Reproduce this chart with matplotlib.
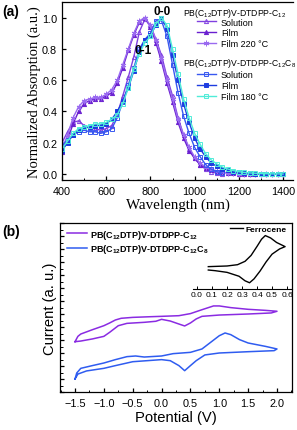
import numpy as np
import matplotlib
matplotlib.use("Agg")
import matplotlib.pyplot as plt
from matplotlib.ticker import MultipleLocator

plt.rcParams["font.family"] = ["Liberation Sans", "DejaVu Sans"]
plt.rcParams["mathtext.default"] = "regular"

# -----------------------------
# (a) absorption spectra
# -----------------------------
wl = [400, 425, 450, 475, 500, 525, 550, 575, 600, 625, 650, 675, 700, 725,
      750, 775, 800, 825, 850, 875, 900, 925, 950, 975, 1000, 1025, 1050,
      1075, 1100, 1125, 1150, 1175, 1200, 1225, 1250, 1275, 1300, 1325,
      1350, 1375, 1400]
nan = np.nan
c12_sol = [.20, .27, .33, .34, .31, .29, .29, .28, .29, .31, .38, .50, .62, .75,
           .91, .99, .95, .86, .76, .62, .50, .36, .25, .16, .10, .06, .03,
           .015, .005, 0, nan, nan, nan, nan, nan, nan, nan, nan, nan, nan, nan]
c12_film = [.14, .22, .32, .40, .45, .47, .48, .48, .50, .52, .58, .68, .79, .89,
            .97, 1.0, .94, .84, .72, .58, .46, .33, .23, .15, .10, .06, .04,
            .025, .015, .01, .007, .005, .003, .002, .001, .001, 0, 0, 0, 0, 0]
c12_film220 = [.16, .25, .36, .43, .47, .48, .49, .49, .51, .54, .60, .70, .80, .90,
               .98, 1.0, .95, .86, .74, .60, .48, .35, .25, .17, .11, .07, .045,
               .03, .02, .012, .008, .005, .003, .002, .001, .001, 0, 0, 0, 0, 0]
c8_sol = [.18, .22, .25, .27, .28, .27, .27, .26, .27, .29, .36, .46, .57, .68,
          .80, .86, .90, .98, .98, .88, .70, .52, .37, .26, .17, .11, .06,
          .03, .015, .005, nan, nan, nan, nan, nan, nan, nan, nan, nan, nan, nan]
c8_film = [.15, .20, .25, .28, .30, .30, .31, .31, .32, .35, .40, .47, .55, .66,
           .78, .86, .89, .95, 1.0, .93, .76, .60, .45, .33, .23, .16, .11,
           .07, .05, .035, .025, .015, .01, .007, .005, .003, .002, .001, .001, 0, 0]
c8_film180 = [.16, .21, .26, .29, .30, .31, .32, .32, .33, .35, .38, .45, .55, .67,
              .77, .84, .88, .96, 1.0, .95, .80, .64, .48, .36, .26, .19, .13,
              .09, .065, .045, .032, .022, .015, .01, .007, .005, .003, .002,
              .001, .001, 0]

# -----------------------------
# (b) cyclic voltammetry
# -----------------------------
cv1_v = [-1.5, -1.45, -1.4, -1.2, -1.0, -0.9, -0.8, -0.7, -0.5, -0.2, 0.0, 0.3,
         0.5, 0.7, 0.9, 1.0, 1.2, 1.5, 1.8, 2.0,
         1.9, 1.5, 1.0, 0.7, 0.6, 0.5, 0.4, 0.3, 0.15, 0.0, -0.1, -0.3, -0.6,
         -0.75, -0.9, -1.0, -1.2, -1.4, -1.5]
cv1_i = [3.87, 4.28, 4.46, 4.79, 5.10, 5.31, 5.54, 5.67, 5.74, 5.79, 5.82, 5.87,
         6.03, 6.33, 6.62, 6.62, 6.49, 6.36, 6.28, 6.21,
         6.08, 6.00, 5.92, 5.82, 5.62, 5.31, 5.08, 5.23, 5.46, 5.59, 5.44, 5.36,
         5.28, 5.10, 4.59, 4.28, 4.08, 3.92, 3.87]
cv2_v = [-1.5, -1.47, -1.4, -1.2, -1.0, -0.8, -0.6, -0.45, -0.3, 0.0, 0.2, 0.5,
         0.7, 0.85, 1.0, 1.1, 1.2, 1.35, 1.5, 1.8, 2.0,
         1.95, 1.5, 1.0, 0.75, 0.6, 0.5, 0.4, 0.3, 0.15, 0.0, -0.5, -0.8, -1.0,
         -1.3, -1.45, -1.5]
cv2_i = [1.00, 1.46, 1.82, 2.03, 2.23, 2.49, 2.72, 2.77, 2.69, 2.77, 2.95, 3.05,
         3.31, 3.82, 4.33, 4.54, 4.41, 4.03, 3.77, 3.51, 3.31,
         3.18, 3.10, 3.00, 2.85, 2.41, 2.03, 1.64, 2.03, 2.41, 2.49, 2.33, 2.03,
         1.82, 1.62, 1.38, 1.00]
fc_v = [0.075, 0.2, 0.27, 0.32, 0.36, 0.40, 0.43, 0.455, 0.49, 0.53, 0.587,
        0.55, 0.5, 0.46, 0.42, 0.38, 0.35, 0.32, 0.28, 0.2, 0.12, 0.075]
fc_i = [9.64, 9.69, 9.79, 10.05, 10.5, 11.2, 11.75, 12.03, 11.85, 11.5, 11.18,
        11.0, 10.6, 10.0, 9.3, 8.7, 8.4, 8.55, 8.9, 9.2, 9.33, 9.38]

name1 = "PB(C$_{12}$DTP)V-DTDPP-C$_{12}$"
name2 = "PB(C$_{12}$DTP)V-DTDPP-C$_{12}$C$_{8}$"

W, H = 297, 431
fig = plt.figure(figsize=(W / 100, H / 100), dpi=100)


def frac(left, top, right, bottom):
    return [left / W, 1 - bottom / H, (right - left) / W, (bottom - top) / H]


# ---- panel (a)
ax = fig.add_axes(frac(62, 3, 293, 180.5))
ms = 3
ax.plot(wl, c12_sol, color="#8040e0", lw=1.0, marker="^", ms=ms, mfc="none", mew=0.7)
ax.plot(wl, c12_film, color="#6a1fd0", lw=1.0, marker="^", ms=ms, mew=0.7)
ax.plot(wl, c12_film220, color="#9a6af0", lw=1.0, marker=(6, 2, 0), ms=ms + 1, mew=0.7)
ax.plot(wl, c8_sol, color="#3858f0", lw=1.0, marker="s", ms=ms - 0.5, mfc="none", mew=0.7)
ax.plot(wl, c8_film, color="#1e3ce0", lw=1.0, marker="s", ms=ms - 0.5, mew=0.7)
ax.plot(wl, c8_film180, color="#50ecd8", lw=1.0, marker="s", ms=ms - 0.5, mfc="none", mew=0.7)

ax.set_xlim(400, 1445)
ax.set_ylim(-0.035, 1.1)
ax.set_xticks([400, 600, 800, 1000, 1200, 1400])
ax.xaxis.set_minor_locator(MultipleLocator(100))
ax.set_yticks([0.0, 0.2, 0.4, 0.6, 0.8, 1.0])
ax.tick_params(which="major", direction="in", length=3, width=0.9, labelsize=7.8)
ax.tick_params(which="minor", direction="in", length=1.8, width=0.7)
ax.tick_params(axis="x", pad=4.5)
ax.tick_params(axis="y", pad=3.5)
for s in ["left", "bottom", "top"]:
    ax.spines[s].set_linewidth(0.9)
ax.spines["right"].set_visible(False)
ax.set_xlabel("Wavelength (nm)", family="Liberation Serif", fontsize=10.8, labelpad=1)
ax.set_ylabel("Normalized Absorption (a.u.)", family="Liberation Serif", fontsize=10.5,
              labelpad=1)

ax.text(852, 1.04, "0-0", fontsize=8.5, fontweight="bold", ha="center", va="center")
ax.text(766, 0.79, "0-1", fontsize=8.5, fontweight="bold", ha="center", va="center")

hl = ax.get_lines()
ax.text(0.524, 0.9435, name1, transform=ax.transAxes, fontsize=6.2, va="center")
ax.text(0.524, 0.661, name2, transform=ax.transAxes, fontsize=6.2, va="center")
labs = ["Solution", "Film", "Film 220 °C"]
leg1 = ax.legend(hl[:3], labs, loc="upper left", bbox_to_anchor=(0.584, 0.912),
                 frameon=False, fontsize=6.5, borderpad=0, borderaxespad=0,
                 handlelength=2.1, handletextpad=0.55, labelspacing=0.2)
ax.add_artist(leg1)
labs2 = ["Solution", "Film", "Film 180 °C"]
ax.legend(hl[3:], labs2, loc="upper left", bbox_to_anchor=(0.584, 0.615),
          frameon=False, fontsize=6.5, borderpad=0, borderaxespad=0,
          handlelength=2.1, handletextpad=0.55, labelspacing=0.2)

fig.text(2 / W, 1 - 12 / H, "(a)", fontsize=10, fontweight="bold", va="center")

# ---- panel (b)
bx = fig.add_axes(frac(60, 224, 292, 393))
bx.plot(cv1_v, cv1_i, color="#8a2be2", lw=1.1, label=name1)
bx.plot(cv2_v, cv2_i, color="#2f5cf0", lw=1.1, label=name2)
bx.set_xlim(-1.76, 2.26)
bx.set_ylim(0, 13)
bx.xaxis.set_major_locator(MultipleLocator(0.5))
bx.xaxis.set_minor_locator(MultipleLocator(0.25))
bx.yaxis.set_major_locator(MultipleLocator(1))
bx.yaxis.set_minor_locator(MultipleLocator(0.5))
bx.tick_params(which="major", direction="in", length=3, width=0.9, labelsize=7.8, pad=4)
bx.tick_params(which="minor", direction="in", length=1.8, width=0.7)
bx.tick_params(axis="y", labelleft=False)
for s in bx.spines.values():
    s.set_linewidth(0.9)
bx.set_xlabel("Potential (V)", fontsize=10.6, labelpad=2)
bx.set_ylabel("Current (a. u.)", fontsize=10.6, labelpad=-1)
bx.legend(loc="upper left", bbox_to_anchor=(0.03, 0.973), frameon=False,
          prop={"size": 6.5, "weight": "bold"}, borderpad=0, borderaxespad=0,
          handlelength=2.2, handletextpad=0.35, labelspacing=0.15)
fig.text(2 / W, 1 - 232 / H, "(b)", fontsize=10, fontweight="bold", va="center")

# ---- inset: ferrocene
ix = fig.add_axes(frac(193, 225, 292, 290))
ix.plot(fc_v, fc_i, color="black", lw=1.0, label="Ferrocene")
ix.set_xlim(-0.027, 0.633)
ix.set_ylim(7.92, 12.92)
ix.patch.set_alpha(0)
for s in ["left", "right", "top"]:
    ix.spines[s].set_visible(False)
ix.spines["bottom"].set_linewidth(0.8)
ix.set_xticks([0.0, 0.1, 0.2, 0.3, 0.4, 0.5, 0.6])
ix.set_yticks([])
ix.tick_params(direction="in", length=2.5, width=0.7, labelsize=6, pad=1.5)
ix.legend(loc="upper left", bbox_to_anchor=(0.374, 0.985), frameon=False,
          prop={"size": 6, "weight": "bold"}, borderpad=0, borderaxespad=0,
          handlelength=1.5, handletextpad=0.3)

fig.savefig("out.png", dpi=100)
